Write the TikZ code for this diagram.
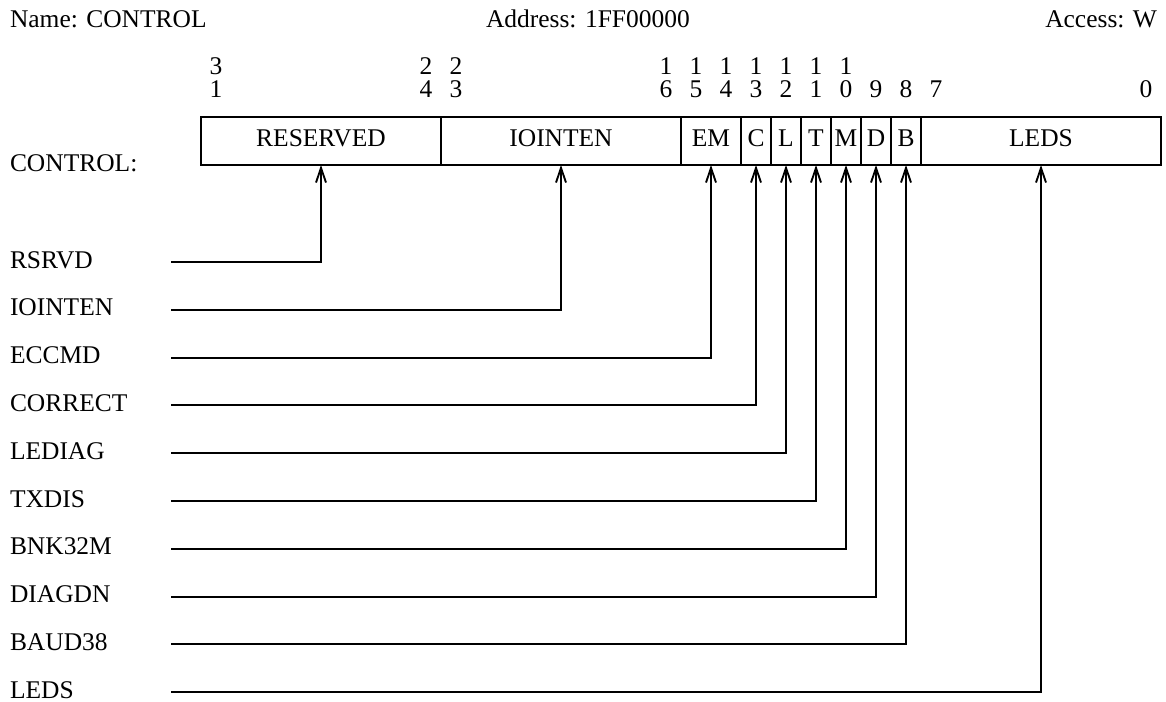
\documentclass[tikz,border=0pt]{standalone}
\usepackage{fontspec}
\setmainfont{Liberation Serif}
\usetikzlibrary{arrows.meta}
\begin{document}
\begin{tikzpicture}[x=0.75pt,y=-0.75pt,line width=1.4pt,
  every node/.style={inner sep=0pt,outer sep=0pt,font=\fontsize{19.1}{23}\selectfont},
  field/.style={draw,line width=1.4pt,minimum height=36pt,text height=12.7pt,text depth=3.7pt},
  arr/.style={-{Straight Barb[length=11pt,width=7.5pt,line width=1.4pt]}}]
\useasboundingbox (0,0) rectangle (1166,702);
% header
\node[anchor=base west] (name) at (10,28) {Name: CONTROL};
\node[anchor=base west] (addr) at (486,28) {Address: 1FF00000};
\node[anchor=base east] (acc) at (1157,28) {Access: W};
\node[anchor=base west] (reg) at (10,172) {CONTROL:};
% bit numbers
\foreach \b/\x in {31/216,24/426,23/456,16/666,15/696,14/726,13/756,12/786,11/816,10/846}{
  \pgfmathtruncatemacro{\tens}{int(\b/10)}
  \pgfmathtruncatemacro{\units}{mod(\b,10)}
  \node[anchor=base] (bt\b) at (\x,75) {\tens};
  \node[anchor=base] (bu\b) at (\x,98) {\units};
}
\foreach \b/\x in {9/876,8/906,7/936,0/1146}{
  \node[anchor=base] (bu\b) at (\x,98) {\b};
}
% fields
\node[field,minimum width=180pt] (res) at (321,141) {RESERVED};
\node[field,minimum width=180pt] (ioi) at (561,141) {IOINTEN};
\node[field,minimum width=45pt] (em) at (711,141) {EM};
\node[field,minimum width=22.5pt] (c) at (756,141) {C};
\node[field,minimum width=22.5pt] (l) at (786,141) {L};
\node[field,minimum width=22.5pt] (t) at (816,141) {T};
\node[field,minimum width=22.5pt] (m) at (846,141) {M};
\node[field,minimum width=22.5pt] (d) at (876,141) {D};
\node[field,minimum width=22.5pt] (b) at (906,141) {B};
\node[field,minimum width=180pt] (leds) at (1041,141) {LEDS};
% signal rows
\foreach \lab/\f [count=\k from 0] in {RSRVD/res,IOINTEN/ioi,ECCMD/em,CORRECT/c,LEDIAG/l,TXDIS/t,BNK32M/m,DIAGDN/d,BAUD38/b,LEDS/leds}{
  \node[anchor=base west] (r\k) at (10,{262+47.8*\k+6}) {\lab};
  \coordinate (s\k) at (171,{262+47.8*\k});
  \draw[arr] (s\k) -| (\f.south);
}
\end{tikzpicture}
\end{document}
